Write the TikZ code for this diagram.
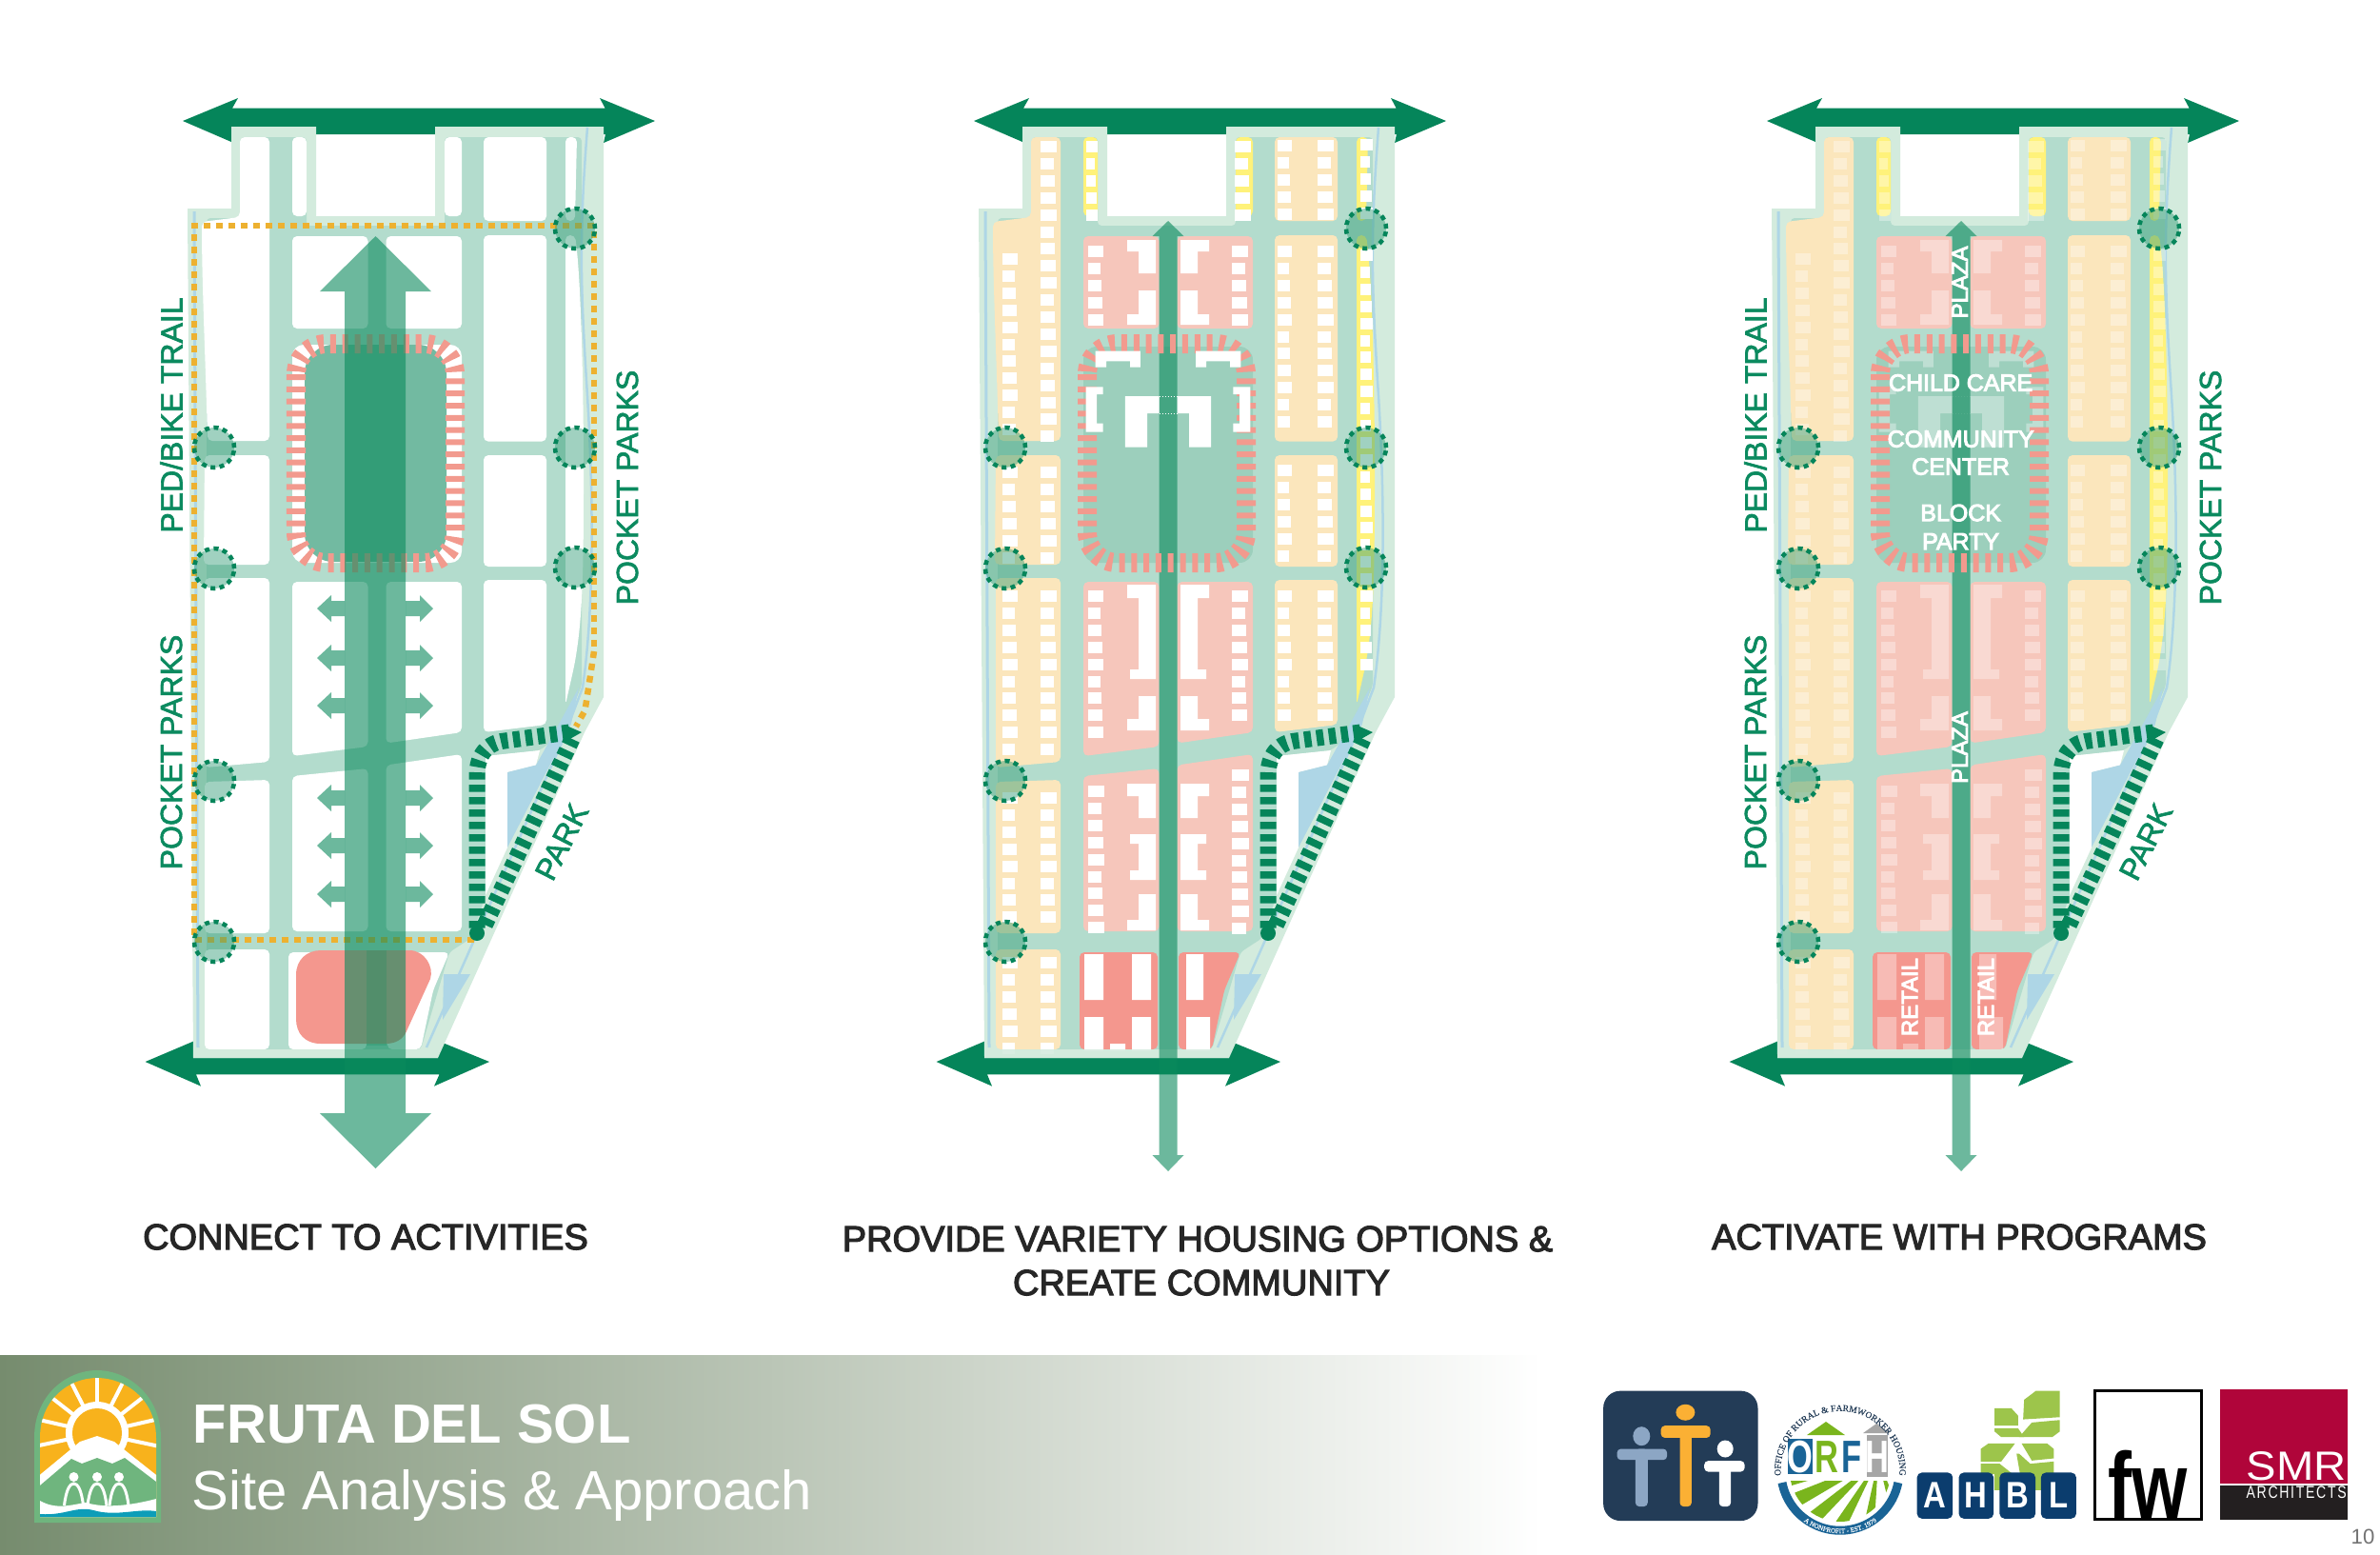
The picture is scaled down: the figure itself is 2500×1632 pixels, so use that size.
\documentclass[tikz,border=0pt]{standalone}
\usepackage{fontspec}
\setmainfont{Liberation Sans}
\newfontfamily\fb[FakeBold=3]{Liberation Sans}
\newfontfamily\fw[FakeBold=4]{Liberation Sans}
\newfontfamily\fl[FakeBold=2]{Liberation Sans}
\newfontfamily\spc[LetterSpace=12]{Liberation Sans}
\newfontfamily\srf[FakeBold=0.2]{Liberation Serif}
\usetikzlibrary{decorations.text}
\definecolor{arrowgr}{HTML}{05855A}
\definecolor{midgr}{HTML}{0A8A5C}
\definecolor{street}{HTML}{B3DCCD}
\definecolor{edgegr}{HTML}{D3EBDD}
\definecolor{trail}{HTML}{AED6E6}
\definecolor{ringc}{HTML}{F29A8E}
\definecolor{dotc}{HTML}{EDB130}
\definecolor{labgr}{HTML}{0B8A5F}
\definecolor{tanb}{HTML}{FBE6BC}
\definecolor{pinkb}{HTML}{F6C6BB}
\definecolor{retb}{HTML}{F4978E}
\definecolor{yelb}{HTML}{FFF27A}
\definecolor{plazaA}{HTML}{72BAA1}
\definecolor{plazaB}{HTML}{9CCFBC}
\definecolor{navy}{HTML}{233C57}
\definecolor{sunor}{HTML}{F8B21C}
\definecolor{bannerc}{HTML}{768C6E}
\definecolor{logogr}{HTML}{6FB57E}
\definecolor{tealc}{HTML}{0D9DB8}
\definecolor{t1}{HTML}{8CA6C4}
\definecolor{t2}{HTML}{FBB034}
\definecolor{leaf}{HTML}{9DC54B}
\definecolor{ahblb}{HTML}{0B3D6E}
\definecolor{smrred}{HTML}{B0053A}
\definecolor{smrdk}{HTML}{231F20}
\definecolor{orgr}{HTML}{7AB51D}
\definecolor{orbl}{HTML}{1A6496}
\tikzset{
  blk/.style={rounded corners=0.5mm},
  ringst/.style={draw=ringc,line width=2mm,dash pattern=on 0.6mm off 0.68mm,rounded corners=3.2mm},
  transl/.style={fill=midgr,fill opacity=0.6},
  parkst/.style={draw=arrowgr,line width=1.7mm,dash pattern=on 0.75mm off 0.55mm},
  lab/.style={text=labgr,font=\fl\fontsize{9.1pt}{10pt}\selectfont,inner sep=0pt},
  captxt/.style={text=black!85,font=\fb\fontsize{10.8pt}{12pt}\selectfont,inner sep=0pt,anchor=center},
  whl/.style={text=white,font=\fw\fontsize{7.1pt}{8pt}\selectfont,inner sep=0pt},
  whr/.style={text=white,font=\fw\fontsize{6.8pt}{8pt}\selectfont,inner sep=0pt,rotate=90},
  pocket/.style={draw=arrowgr,line width=0.45mm,dash pattern=on 0.5mm off 0.45mm},
}
% ---- site shell
\newcommand\siteshell{%
  \fill[arrowgr] (192,127)--(250,103)--(244,113.6)--(635.6,113.6)--(630,103)--(688,127)--(634,150)--(636,141)--(244,141)--(243,149)--cycle;
  \fill[arrowgr] (152.6,1115)--(203,1093.6)--(206,1100)--(456,1100)--(461.5,1093.6)--(514,1115)--(456,1140.6)--(461.5,1128.4)--(206,1128.4)--(211,1140.6)--cycle;
  \fill[edgegr] (243,133)--(332,133)--(332,227)--(457,227)--(457,133)--(634,133)--(634,732)--(614,769)--(460,1111)--(203,1111)--(197,219)--(243,219)--cycle;
  \fill[street,rounded corners=0.4mm] (253,144)--(322,144)--(322,237)--(467,237)--(467,144)--(611,144)--(611,720)--(590,770)--(567,788)--(510,794)--(510,940)--(495,985)--(472,1000)--(442,1102)--(217,1102)--(217,229)--(253,229)--cycle;
  \draw[trail,line width=0.3mm] (204,222)--(208,1100);
  \draw[trail,line width=0.25mm] (617,134) .. controls (608,250) and (610,300) .. (616,400) .. controls (624,520) and (624,640) .. (612,722) -- (590,780) -- (448,1100);
  \fill[white] (510,794)--(567,788)--(563,803.5)--(533,811)--(533,890)--(510,940)--cycle;
  \fill[trail] (533,811)--(563,803.5)--(590,755)--(608,722)--(600,760)--(533,890)--cycle;
  \fill[trail] (466,1023)--(494,1023)--(465,1071)--cycle;
}
\newcommand\siteblocks{%
  \fill[colA,blk] (252,144)--(283,144)--(283,463)--(218,463) .. controls (216,380) and (212,300) .. (212,233)--(252,228)--cycle;
  \fill[colA,blk] (215,478)--(283,478)--(283,593)--(214,593)--cycle;
  \fill[colA,blk] (215,607)--(283,607)--(283,800)--(215,806)--cycle;
  \fill[colA,blk] (215,821)--(283,819)--(283,980)--(215,980)--cycle;
  \fill[colA,blk] (215,997)--(283,997)--(283,1102)--(215,1102)--cycle;
  \fill[colY,blk] (307,144) rectangle (322,227);
  \fill[colY,blk] (467,144) rectangle (485,227);
  \fill[colP,blk] (307,248) rectangle (386.5,345);
  \fill[colP,blk] (405.5,248) rectangle (485,345);
  \fill[colP,blk] (307,611)--(386.5,611)--(386.5,784)--(307,794)--cycle;
  \fill[colP,blk] (405.5,611)--(485,611)--(485,769)--(405.5,780.5)--cycle;
  \fill[colP,blk] (307,815)--(386.5,807)--(386.5,978)--(307,978)--cycle;
  \fill[colP,blk] (405.5,803.5)--(485,792)--(485,978)--(405.5,978)--cycle;
  \fill[colR,blk] (303,1000) rectangle (385,1102);
  \fill[colR,blk] (407,1000)--(472,1000)--(455,1040)--(442,1102)--(407,1102)--cycle;
  \fill[colA,blk] (508,144) rectangle (574,232);
  \fill[colA,blk] (508,247) rectangle (574,463.6);
  \fill[colA,blk] (508,478) rectangle (574,595);
  \fill[colA,blk] (508,609)--(574,609)--(574,761)--(508,769)--cycle;
  \fill[colY,blk] (594,144)--(606,144)--(604,232)--(594,232)--cycle;
  \fill[colY,blk] (594,247)--(604,247) .. controls (610,290) and (613,400) .. (613,500) .. controls (613,600) and (612,650) .. (603,700) -- (594,740)--cycle;
}
\newcommand\hcol[4]{%
  \foreach \k in {0,...,#3} {
    \pgfmathsetmacro\yy{#2+\k*17.9}
    \pgfmathsetmacro\ww{#4-mod(\k*3,4)}
    \fill[white] (#1,\yy) rectangle ++(\ww,12);
  }}
\newcommand\brk{%
  \fill[white] (353,252)--(383,252)--(383,287)--(365,287)--(365,264)--(353,264)--cycle;
  \fill[white] (365,305)--(383,305)--(383,341)--(353,341)--(353,330)--(365,330)--cycle;
  \fill[white] (353,614)--(383,614)--(383,713)--(356,713)--(356,703)--(365,703)--(365,628)--(353,628)--cycle;
  \fill[white] (365,731)--(383,731)--(383,767)--(353,767)--(353,755)--(365,755)--cycle;
  \fill[white] (353,823)--(383,823)--(383,859)--(365,859)--(365,836)--(353,836)--cycle;
  \fill[white] (356,876)--(383,876)--(383,924)--(356,924)--(356,914)--(365,914)--(365,886)--(356,886)--cycle;
  \fill[white] (365,939)--(383,939)--(383,977)--(353,977)--(353,966)--(365,966)--cycle;
}
\newcommand\plazahalf{%
  \fill[white] (319.7,368.6)--(366.9,368.6)--(366.9,385.7)--(356,385.7)--(356,379.3)--(331,379.3)--(331,385.7)--(319.7,385.7)--cycle;
  \fill[white] (309.7,406.4)--(327.6,406.4)--(327.6,414)--(321,414)--(321,444.6)--(327.6,444.6)--(327.6,453.6)--(309.7,453.6)--cycle;
  \fill[white] (350.8,416)--(386.5,416)--(386.5,434)--(374,434)--(374,469.6)--(350.8,469.6)--cycle;
}
\newcommand\plazahouses{%
  \plazahalf
  \begin{scope}[shift={(792,0)},xscale=-1]\plazahalf\end{scope}
  \draw[white,line width=0.06mm,dash pattern=on 0.15mm off 0.15mm] (386.5,416)--(405.5,416) (386.5,434)--(405.5,434);
}
\newcommand\allhouses{%
  \hcol{262}{148}{17}{17}\hcol{222}{266}{10}{16}
  \hcol{222}{490}{5}{16}\hcol{262}{490}{5}{17}
  \hcol{222}{620}{9}{16}\hcol{262}{620}{9}{17}
  \hcol{222}{832}{7}{16}\hcol{262}{832}{7}{17}
  \hcol{222}{1005}{5}{16}\hcol{262}{1005}{5}{17}
  \hcol{310}{148}{4}{12}\hcol{466}{148}{4}{17}
  \hcol{312}{258}{4}{16}\hcol{463}{258}{4}{17}
  \hcol{312}{620}{8}{16}\hcol{463}{620}{7}{17}
  \hcol{312}{825}{8}{17}\hcol{463}{808}{9}{18}
  \hcol{511}{147}{4}{15}\hcol{553}{147}{4}{17}
  \hcol{511}{258}{10}{15}\hcol{553}{258}{10}{17}
  \hcol{511}{488}{5}{15}\hcol{553}{488}{5}{17}
  \hcol{511}{620}{7}{15}\hcol{553}{620}{7}{17}
  \hcol{598}{146}{4}{13}\hcol{598}{262}{24}{13}
  \brk
  \begin{scope}[shift={(792,0)},xscale=-1]\brk\end{scope}
  \fill[white] (308,1002) rectangle (328,1050) (358,1002) rectangle (378,1050) (308,1068) rectangle (328,1104) (358,1068) rectangle (378,1104) (415,1002) rectangle (433,1050) (415,1068) rectangle (440,1104) (335,1096) rectangle (351,1104);
}
\newcommand\bottomstrip{\fill[edgegr,fill opacity=0.85] (203,1102)--(444,1102)--(460,1111)--(203,1111)--cycle;}
\newcommand\parkdash{%
  \draw[parkst] (598,769)--(530,778) .. controls (512,780) and (501,792) .. (501,815)--(501,975);
  \draw[parkst] (601,776)--(509,972);
  \fill[arrowgr] (595,762)--(611,769)--(597,777)--cycle;
  \fill[arrowgr] (501,980) circle[radius=0.08cm];
}
\newcommand\pockets{%
  \foreach \cx/\cy in {225/470,225/597,225/820,225/989,604/240,604/470,604/596}{
    \fill[fill=midgr!65!plazaA,fill opacity=0.45] (\cx,\cy) circle[radius=0.21cm];
    \draw[pocket] (\cx,\cy) circle[radius=0.21cm];
  }}
\newcommand\thinarrow{\fill[transl] (396,232)--(412.5,248)--(405.5,248)--(405.5,1213)--(412.5,1213)--(396,1230)--(379.5,1213)--(386.5,1213)--(386.5,248)--(379.5,248)--cycle;}
\begin{document}
\begin{tikzpicture}[x=0.01cm,y=-0.01cm]
\useasboundingbox (0,0) rectangle (2500,1632);
\fill[white] (0,0) rectangle (2500,1632);
% ================= Panel 1
\begin{scope}
  \colorlet{colA}{white}\colorlet{colP}{white}\colorlet{colR}{white}\colorlet{colY}{white}
  \siteshell
  \siteblocks
  \fill[white,rounded corners=1.2mm] (307,362) rectangle (485,591);
  \fill[plazaA,rounded corners=3mm] (320,362) rectangle (469,590);
  \draw[ringst] (311,361) rectangle (478,591);
  \fill[retb] (337,998)--(430,998) .. controls (446,998) and (456,1015) .. (452,1028) -- (427,1083) .. controls (423,1092) and (415,1096) .. (405,1096) -- (337,1096) .. controls (320,1096) and (311,1085) .. (311,1070) -- (311,1024) .. controls (311,1008) and (322,998) .. (337,998) -- cycle;
  \fill[midgr,fill opacity=0.22] (385,998) rectangle (406,1098);
  \bottomstrip
  \draw[dotc,line width=0.65mm,dash pattern=on 0.7mm off 0.6mm] (624,684)--(614.5,746)--(605,763);
  \draw[dotc,line width=0.65mm,dash pattern=on 0.7mm off 0.6mm] (498,987)--(204,987)--(204,237)--(624,237)--(624,684);
  \parkdash
  \fill[transl] (394.5,248)--(453,306)--(426,306)--(426,1169)--(453,1169)--(394.5,1227)--(336,1169)--(362,1169)--(362,306)--(336,306)--cycle;
  \foreach \ya in {639,691,741,838,888,939}{
    \fill[transl] (362,\ya-8)--(348,\ya-8)--(348,\ya-14)--(333,\ya)--(348,\ya+14)--(348,\ya+8)--(362,\ya+8)--cycle;
    \fill[transl] (426,\ya-8)--(441,\ya-8)--(441,\ya-14)--(455,\ya)--(441,\ya+14)--(441,\ya+8)--(426,\ya+8)--cycle;
  }
  \pockets
  \node[lab,rotate=90] (aped) at (180,436) {PED/BIKE TRAIL};
  \node[lab,rotate=90] (apkr) at (659,512) {POCKET PARKS};
  \node[lab,rotate=90] (apkl) at (180,790) {POCKET PARKS};
  \node[lab,rotate=63] (apark) at (590,884) {PARK};
\end{scope}
% ================= Panel 2
\begin{scope}[shift={(831,0)}]
  \colorlet{colA}{tanb}\colorlet{colP}{pinkb}\colorlet{colR}{retb}\colorlet{colY}{yelb}
  \siteshell
  \siteblocks
  \fill[plazaB,rounded corners=1.4mm] (307,364) rectangle (485,591);
  \allhouses
  \bottomstrip
  \thinarrow
  \draw[ringst] (311,361) rectangle (478,591);
  \plazahouses
  \parkdash
  \pockets
\end{scope}
% ================= Panel 3
\begin{scope}[shift={(1664,0)}]
  \colorlet{colA}{tanb}\colorlet{colP}{pinkb}\colorlet{colR}{retb}\colorlet{colY}{yelb}
  \siteshell
  \siteblocks
  \fill[plazaB,rounded corners=1.4mm] (307,364) rectangle (485,591);
  \begin{scope}[opacity=0.35]\allhouses\plazahouses\end{scope}
  \bottomstrip
  \thinarrow
  \draw[ringst] (311,361) rectangle (478,591);
  \parkdash
  \pockets
  \node[lab,rotate=90] (cped) at (180,436) {PED/BIKE TRAIL};
  \node[lab,rotate=90] (cpkr) at (658,512) {POCKET PARKS};
  \node[lab,rotate=90] (cpkl) at (180,790) {POCKET PARKS};
  \node[lab,rotate=63] (cpark) at (590,884) {PARK};
  \node[whl] (cchild) at (395.6,402) {CHILD CARE};
  \node[whl] (ccomm) at (395.6,461) {COMMUNITY};
  \node[whl] (ccent) at (395.6,490) {CENTER};
  \node[whl] (cblock) at (395.6,538.6) {BLOCK};
  \node[whl] (cparty) at (395.6,568.6) {PARTY};
  \node[whr] (cpl1) at (394.6,296.4) {PLAZA};
  \node[whr] (cpl2) at (394.6,785) {PLAZA};
  \node[whr] (cre1) at (342,1047) {RETAIL};
  \node[whr] (cre2) at (422,1047) {RETAIL};
\end{scope}
% ================= Captions
\node[captxt] (cap1) at (384,1299) {CONNECT TO ACTIVITIES};
\node[captxt] (cap2a) at (1258,1301) {PROVIDE VARIETY HOUSING OPTIONS \&};
\node[captxt] (cap2b) at (1262,1347) {CREATE COMMUNITY};
\node[captxt] (cap3) at (2058,1299) {ACTIVATE WITH PROGRAMS};
% ================= Banner
\shade[left color=bannerc,right color=white] (0,1423) rectangle (1620,1632);
\node[anchor=base west,inner sep=0pt,text=white,font=\bfseries\fontsize{16.5pt}{18pt}\selectfont] (title) at (202,1515) {FRUTA DEL SOL};
\node[anchor=base west,inner sep=0pt,text=white,font=\fontsize{16.5pt}{18pt}\selectfont] (subtitle) at (201,1585) {Site Analysis \& Approach};
% ---- sun logo
\fill[logogr] (36,1599)--(36,1510) .. controls (36,1465) and (70,1439) .. (102,1439) .. controls (134,1439) and (169,1465) .. (169,1510)--(169,1599)--cycle;
\begin{scope}
  \clip (42,1593)--(42,1510) .. controls (42,1470) and (72,1447) .. (102,1447) .. controls (132,1447) and (164,1470) .. (164,1510)--(164,1593)--cycle;
  \fill[sunor] (30,1430) rectangle (175,1600);
  \foreach \a in {-12,13,38,63,90,117,142,167,192}{
    \draw[white,line width=0.4mm] (102,1505)--({102+90*cos(\a)},{1505-90*sin(\a)});
  }
  \fill[white] (102,1505) circle[radius=0.33cm];
  \fill[sunor] (102,1505) circle[radius=0.26cm];
  \fill[white] (38,1552)--(84,1514)--(102,1508)--(120,1514)--(168,1552)--(168,1600)--(38,1600)--cycle;
  \fill[logogr] (42,1560)--(75,1532)--(86,1537)--(102,1531)--(118,1537)--(131,1531)--(164,1556)--(164,1593)--(42,1593)--cycle;
  \foreach \px in {77.5,102,125}{
    \fill[white] (\px,1551) circle[radius=0.05cm];
    \draw[white,line width=0.3mm] (\px-10,1581) .. controls (\px-8,1564) and (\px-4,1558) .. (\px,1558) .. controls (\px+4,1558) and (\px+8,1564) .. (\px+10,1581);
  }
  \fill[white] (42,1576) .. controls (60,1586) and (75,1580) .. (90,1578) .. controls (105,1582) and (125,1584) .. (164,1574)--(164,1593)--(42,1593)--cycle;
  \fill[tealc] (42,1590) .. controls (70,1592) and (80,1580) .. (102,1587) .. controls (125,1592) and (145,1584) .. (164,1587)--(164,1593)--(42,1593)--cycle;
\end{scope}
% ---- logos: coordinates as read in the crop
\begin{scope}[shift={(1660,1420)},x=0.005356cm,y=-0.003333cm]
  \fill[navy,rounded corners=1.8mm] (45,122) rectangle (348,532);
  \fill[t1,rounded corners=0.4mm] (72,305) rectangle (170,340);
  \fill[t1,rounded corners=0.4mm] (108,305) rectangle (132,487);
  \fill[t1] (120,265) ellipse[x radius=0.09cm,y radius=0.1cm];
  \fill[t2,rounded corners=0.4mm] (158,232) rectangle (255,270);
  \fill[t2,rounded corners=0.4mm] (195,232) rectangle (218,487);
  \fill[t2] (206,190) ellipse[x radius=0.1cm,y radius=0.085cm];
  \fill[white,rounded corners=0.4mm] (243,343) rectangle (322,377);
  \fill[white,rounded corners=0.4mm] (272,343) rectangle (295,487);
  \fill[white] (284,305) ellipse[x radius=0.085cm,y radius=0.09cm];
  % AHBL
  \fill[leaf] (870,150)--(893,122)--(940,122)--(940,205)--(868,212)--cycle;
  \fill[leaf] (885,222)--(940,214)--(940,250)--(925,268)--(860,268)--cycle;
  \fill[leaf] (812,177)--(845,177)--(858,200)--(858,232)--(812,232)--cycle;
  \fill[leaf] (812,240)--(858,240)--(870,268)--(825,268)--(812,250)--cycle;
  \fill[leaf] (800,288)--(852,288)--(825,345)--(785,345)--(785,305)--cycle;
  \fill[leaf] (865,288)--(915,288)--(928,305)--(928,335)--(885,342)--cycle;
  \fill[leaf] (785,352)--(822,352)--(848,385)--(785,385)--cycle;
  \fill[leaf] (855,320)--(860,320)--(882,352)--(928,345)--(928,385)--(862,385)--cycle;
  \fill[leaf] (812,385) rectangle (905,435);
  \foreach \xa/\xb/\ltr in {660/730/A,742/810/H,822/892/B,903/972/L}{
    \fill[ahblb,rounded corners=0.5mm] (\xa,380) rectangle (\xb,525);
    \node[inner sep=0pt,xscale=0.85,text=white,font=\bfseries\fontsize{11pt}{12pt}\selectfont] (ahbl\ltr) at ({(\xa+\xb)/2},452) {\ltr};
  }
  % fw
  \draw[black,line width=0.3mm] (1009,123) rectangle (1218,527);
  \node[anchor=base,inner sep=0pt,xscale=0.76,text=black,font=\bfseries\fontsize{28pt}{30pt}\selectfont] (fw) at (1112,525) {fw};
  % SMR
  \fill[smrred] (1254,117) rectangle (1505,415);
  \fill[smrdk] (1254,420) rectangle (1505,530);
  \node[anchor=base east,inner sep=0pt,xscale=1.1,text=white,font=\fontsize{12.2pt}{14pt}\selectfont] (smr) at (1503,405) {SMR};
  \node[anchor=base east,inner sep=0pt,yscale=1.3,text=white,font=\spc\fontsize{4pt}{5pt}\selectfont] (arch) at (1503,460) {ARCHITECTS};
\end{scope}
% ---- ORFH
\begin{scope}[shift={(1933,1545)},y=0.01cm]
  \begin{scope}
    \clip (-52,-10) arc[start angle=191,end angle=349,radius=0.53cm]--cycle;
    \fill[white] (-60,-60) rectangle (60,10);
    \foreach \a in {178,192,206,222,240,262,288}{
      \fill[orgr] (40,12)--({40+130*cos(\a-4.5)},{12+130*sin(\a-4.5)})--({40+130*cos(\a+4.5)},{12+130*sin(\a+4.5)})--cycle;
    }
  \end{scope}
  \draw[orbl,line width=0.9mm] (-61,-12) arc[start angle=191,end angle=349,radius=0.62cm];
  \fill[orgr] (-35,38)--(-15,52)--(5,38)--cycle;
  \fill[gray!70] (24,40)--(38,50)--(52,40)--cycle;
  \fill[orbl] (-55,-3) rectangle (-29,34);
  \fill[gray!70] (28,-6) rectangle (50,38);
  \node[inner sep=0pt,xscale=0.72,text=white,font=\bfseries\fontsize{13.6pt}{16pt}\selectfont] (orfo) at (-42,15) {O};
  \node[inner sep=0pt,xscale=0.72,text=orgr,font=\bfseries\fontsize{13.6pt}{16pt}\selectfont] (orfr) at (-14,15) {R};
  \node[inner sep=0pt,xscale=0.72,text=orbl,font=\bfseries\fontsize{13.6pt}{16pt}\selectfont] (orff) at (12,15) {F};
  \node[inner sep=0pt,xscale=0.72,text=white,font=\bfseries\fontsize{13.6pt}{16pt}\selectfont] (orfh) at (39,15) {H};
  \path[postaction={decorate},decoration={text along path,text align=center,text={|\srf\fontsize{2.7pt}{3pt}\selectfont\color{navy}|OFFICE OF RURAL {\&} FARMWORKER HOUSING}}] (-62,-8) arc[start angle=188,end angle=-8,radius=0.625cm];
  \path[postaction={decorate},decoration={text along path,text align=center,text={|\srf\fontsize{2pt}{2pt}\selectfont\color{white}|A NONPROFIT - EST. 1979}}] (-39,-52) arc[start angle=233,end angle=307,radius=0.65cm];
\end{scope}
\node[inner sep=0pt,text=black!55,font=\fontsize{6.3pt}{7pt}\selectfont] (pg) at (2482,1614) {10};
\end{tikzpicture}
\end{document}
